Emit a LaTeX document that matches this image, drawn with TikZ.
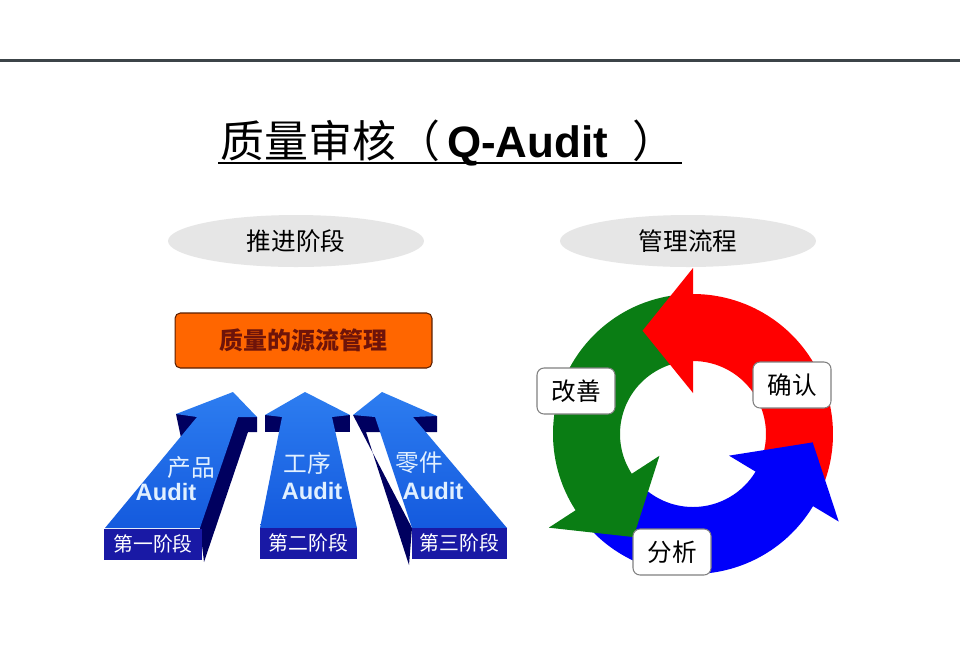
\documentclass[tikz,border=0pt]{standalone}
\usepackage{fontspec}
\setsansfont{Liberation Sans}
\newfontfamily\cjk{Noto Sans CJK SC}
\usepackage{tikz}
\usetikzlibrary{shapes.geometric}

\definecolor{topline}{RGB}{60,68,72}
\definecolor{ovalgray}{RGB}{230,230,230}
\definecolor{srcorange}{RGB}{255,102,0}
\definecolor{srcedge}{RGB}{90,30,0}
\definecolor{srctext}{RGB}{110,20,10}
\definecolor{facetop}{RGB}{45,125,240}
\definecolor{facebot}{RGB}{20,90,222}
\definecolor{navy}{RGB}{0,0,95}
\definecolor{stageblue}{RGB}{25,25,165}
\definecolor{facetext}{RGB}{225,240,255}
\definecolor{cyred}{RGB}{255,0,0}
\definecolor{cygreen}{RGB}{10,125,20}
\definecolor{cyblue}{RGB}{0,0,250}

\tikzset{
  oval/.style={ellipse, fill=ovalgray, minimum width=5.12cm, minimum height=1.04cm,
    font=\cjk\fontsize{14pt}{16pt}\selectfont},
  srcbox/.style={rectangle, rounded corners=3pt, fill=srcorange, draw=srcedge, line width=0.6pt,
    minimum width=5.14cm, minimum height=1.1cm, text=srctext,
    font=\cjk\bfseries\fontsize{13.6pt}{16pt}\selectfont},
  face/.style={top color=facetop, bottom color=facebot},
  stagebox/.style={rectangle, fill=stageblue, text=white, minimum height=0.62cm,
    font=\cjk\fontsize{11.3pt}{13pt}\selectfont},
  facelabel/.style={text=facetext, font=\cjk\fontsize{13.5pt}{15pt}\selectfont},
  audit/.style={text=facetext, font=\sffamily\bfseries\fontsize{13.5pt}{15pt}\selectfont},
  stepbox/.style={rectangle, rounded corners=4pt, draw=gray, fill=white, line width=0.6pt,
    minimum width=1.56cm, minimum height=0.92cm, font=\cjk\fontsize{14pt}{16pt}\selectfont}
}

\begin{document}
\begin{tikzpicture}[x=0.02cm, y=-0.02cm]
\useasboundingbox (0,0) rectangle (960,647);
\fill[white] (0,0) rectangle (960,647);

\draw[line width=1.7pt, topline] (0,60) -- (960,60);

\node[anchor=base west, inner sep=0pt, font=\fontsize{25pt}{30pt}\selectfont] (title) at (220,157)
  {{\cjk 质量审核（}\hspace{4pt}{\sffamily\bfseries Q-Audit}\hspace{14pt}{\cjk ）}};
\draw[line width=1.1pt] (218,163) -- (682,163);

\node[oval] (stage) at (296,241) {推进阶段};
\node[oval] (flow) at (688,241) {管理流程};

\node[srcbox] (src) at (303.5,340.5) {质量的源流管理};

\fill[navy] (176,414) -- (257,417) -- (257,432) -- (248,432) -- (204,562) -- (200,528) -- cycle;
\shade[face] (105,528) -- (197,417) -- (176,414) -- (233,392) -- (257,417) -- (238,417) -- (200,528) -- cycle;

\fill[navy] (265,415) rectangle (350,432);
\shade[face] (260,528) -- (282,417) -- (265,415) -- (305,392) -- (350,415) -- (332,417) -- (357,528) -- cycle;

\fill[navy] (353,415) -- (437,416) -- (437,432) -- (366,432) -- (409,565) -- (412,528) -- cycle;
\shade[face] (412,528) -- (375,417) -- (353,415) -- (382,392) -- (437,416) -- (413,417) -- (507,528) -- cycle;

\node[stagebox, minimum width=1.96cm] (s1) at (153,544) {第一阶段};
\node[stagebox, minimum width=1.94cm] (s2) at (308.5,543) {第二阶段};
\node[stagebox, minimum width=1.90cm] (s3) at (459.5,543) {第三阶段};

\node[facelabel] (p1) at (191,468) {产品};
\node[audit] (a1) at (166,492) {Audit};
\node[facelabel] (p2) at (307,463) {工序};
\node[audit] (a2) at (312,491) {Audit};
\node[facelabel] (p3) at (419,463) {零件};
\node[audit] (a3) at (433,491) {Audit};

\begin{scope}[shift={(693,434)}, y=0.02cm]
  \fill[cyred] (-20:140) arc[start angle=-20, end angle=91, radius=140] -- (91:73) arc[start angle=91, end angle=-20, radius=73] -- cycle;
  \fill[cygreen] (95:140) arc[start angle=95, end angle=214, radius=140] -- (214:73) arc[start angle=214, end angle=95, radius=73] -- cycle;
  \fill[cyblue] (215:140) arc[start angle=215, end angle=330, radius=140] -- (330:73) arc[start angle=330, end angle=215, radius=73] -- cycle;
  \fill[cyred] (90:166) -- (116:115) -- (90:41) -- cycle;
  \fill[cygreen] (213:172) -- (240:119) -- (213:40) -- cycle;
  \fill[cyblue] (329:170) -- (356:120) -- (329:42) -- cycle;
\end{scope}

\node[stepbox] (gs) at (576,391) {改善};
\node[stepbox] (qr) at (792,385) {确认};
\node[stepbox] (fx) at (672,552) {分析};
\end{tikzpicture}
\end{document}
